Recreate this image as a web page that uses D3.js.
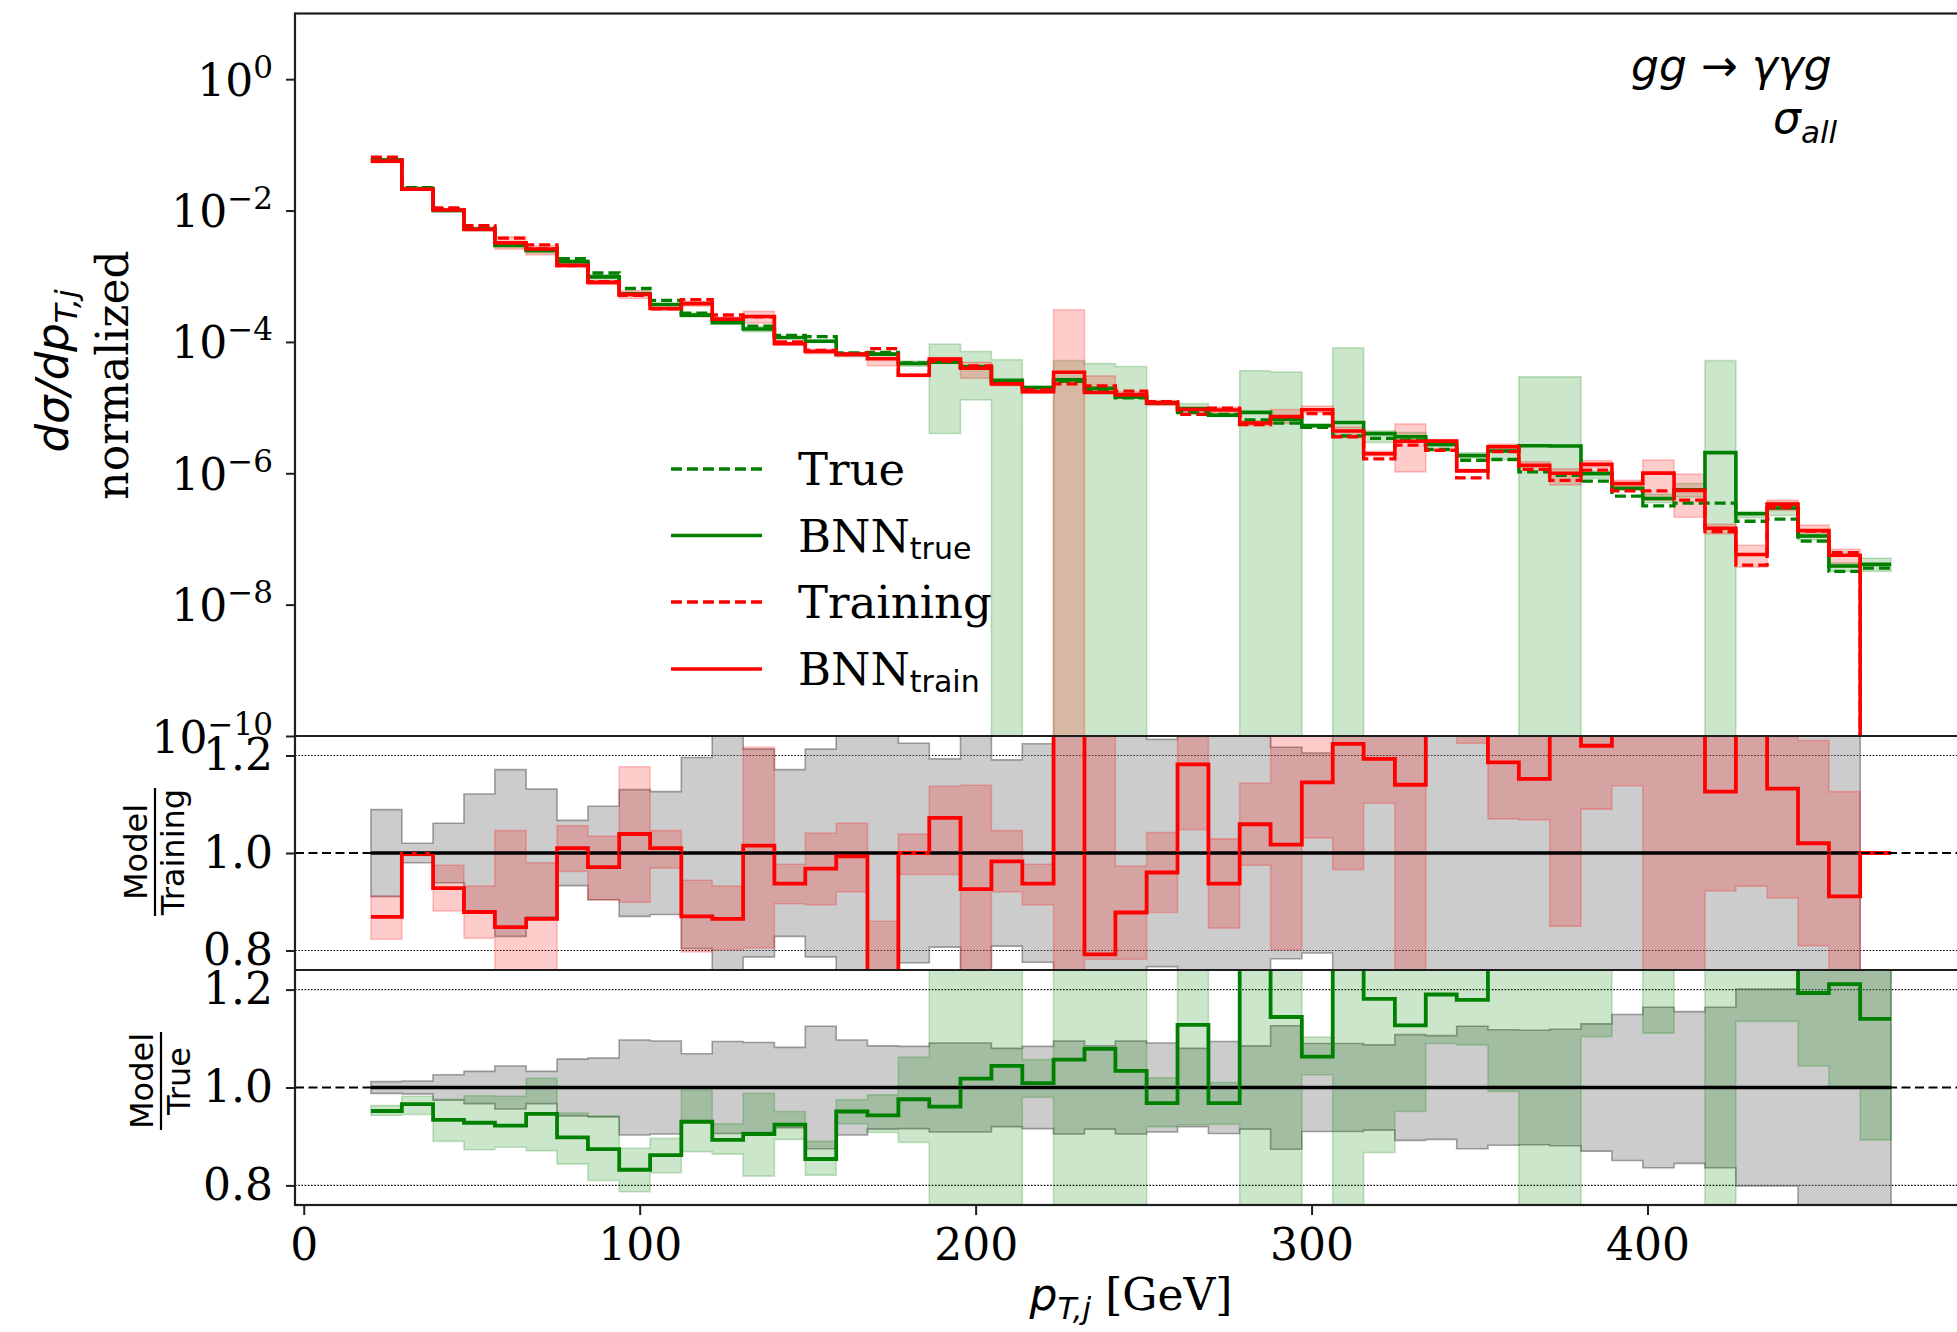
<!DOCTYPE html>
<html>
<head>
<meta charset="utf-8">
<script src="https://cdn.jsdelivr.net/npm/d3@7"></script>
<style>
  html, body { margin: 0; padding: 0; background: #ffffff; }
  svg { display: block; }
</style>
</head>
<body>
<svg id="chart" width="1957" height="1332"></svg>
<script>
// ---- histogram data: jet transverse momentum, 49 bins ----
const binEdges = [20.0, 29.2, 38.5, 47.7, 56.9, 66.2, 75.4, 84.6, 93.9, 103.1,
  112.4, 121.6, 130.8, 140.1, 149.3, 158.5, 167.8, 177.0, 186.2, 195.5,
  204.7, 213.9, 223.2, 232.4, 241.6, 250.9, 260.1, 269.3, 278.6, 287.8,
  297.1, 306.3, 315.5, 324.8, 334.0, 343.2, 352.5, 361.7, 370.9, 380.2,
  389.4, 398.6, 407.9, 417.1, 426.3, 435.6, 444.8, 454.0, 463.3, 472.5];

// normalized differential cross section, "True" sample
const trueHist = [6.2e-2, 2.24e-2, 1.07e-2, 5.6e-3, 3.2e-3, 2.6e-3, 1.86e-3, 1.12e-3, 6.5e-4, 4.3e-4,
  2.75e-4, 2.19e-4, 1.74e-4, 1.26e-4, 1.20e-4, 6.8e-5, 6.9e-5, 4.8e-5, 5.1e-5, 4.1e-5,
  2.5e-5, 2.0e-5, 2.5e-5, 1.82e-5, 1.41e-5, 1.20e-5, 8.5e-6, 7.9e-6, 6.5e-6, 5.8e-6,
  5.0e-6, 3.7e-6, 3.4e-6, 3.2e-6, 2.3e-6, 1.58e-6, 1.62e-6, 1.05e-6, 9.3e-7, 7.6e-7,
  4.5e-7, 3.2e-7, 3.5e-7, 3.5e-7, 1.86e-7, 2.0e-7, 9.3e-8, 3.2e-8, 3.6e-8];

// normalized differential cross section, "Training" sample (empty last bin)
const trainHist = [6.5e-2, 2.11e-2, 1.10e-2, 5.9e-3, 3.8e-3, 3.0e-3, 1.45e-3, 8.3e-4, 5.1e-4, 3.2e-4,
  4.4e-4, 2.57e-4, 2.40e-4, 1.00e-4, 7.4e-5, 6.5e-5, 7.9e-5, 3.1e-5, 5.1e-5, 4.3e-5,
  2.34e-5, 1.86e-5, 2.29e-5, 2.14e-5, 1.78e-5, 1.23e-5, 7.9e-6, 9.8e-6, 5.5e-6, 7.2e-6,
  8.1e-6, 3.6e-6, 1.66e-6, 2.69e-6, 2.24e-6, 8.5e-7, 2.14e-6, 1.15e-6, 7.8e-7, 1.12e-6,
  5.4e-7, 5.4e-7, 3.9e-7, 1.29e-7, 4.0e-8, 3.0e-7, 1.32e-7, 6.2e-8, 0];

// relative statistical uncertainty of the Training histogram
const trainStatUnc = [0.089, 0.020, 0.061, 0.121, 0.171, 0.131, 0.067, 0.096, 0.130, 0.126,
  0.196, 0.245, 0.213, 0.171, 0.213, 0.26, 0.27, 0.225, 0.193, 0.26,
  0.191, 0.224, 0.30, 0.28, 0.26, 0.233, 0.27, 0.28, 0.26, 0.217,
  0.205, 0.29, 0.30, 0.30, 0.32, 0.33, 0.33, 0.35, 0.36, 0.36,
  0.38, 0.40, 0.40, 0.42, 0.45, 0.45, 0.48, 0.50, null];

// BNN_train / Training, with the BNN uncertainty band
const bnnTrainRatio = [0.869, 0.998, 0.928, 0.879, 0.848, 0.865, 1.010, 0.971, 1.039, 1.010,
  0.870, 0.865, 1.015, 0.937, 0.968, 0.993, 0.700, 1.000, 1.072, 0.926,
  0.983, 0.937, 1.51, 0.792, 0.878, 0.960, 1.182, 0.937, 1.059, 1.017,
  1.145, 1.224, 1.193, 1.140, 1.38, 1.28, 1.186, 1.152, 1.28, 1.220,
  1.29, 1.86, 1.41, 1.126, 1.45, 1.132, 1.020, 0.911, 1.000];
const bnnTrainRatioLo = [0.823, 0.995, 0.881, 0.825, 0.68, 0.70, 0.962, 0.904, 0.899, 0.969,
  0.797, 0.802, 0.805, 0.896, 0.894, 0.920, 0.55, 0.956, 0.956, 0.65,
  0.920, 0.894, 0, 0.782, 0.782, 0.878, 1.048, 0.846, 0.975, 0.802,
  1.031, 0.966, 1.102, 0.39, 1.30, 1.225, 1.070, 1.068, 0.850, 1.090,
  1.138, 0.72, 0.55, 0.922, 0.932, 0.908, 0.810, 0.60, null];
const bnnTrainRatioHi = [0.911, 1.002, 0.975, 0.932, 1.046, 0.980, 1.056, 1.035, 1.177, 1.046,
  0.944, 0.932, 1.217, 0.977, 1.041, 1.061, 0.860, 1.039, 1.137, 1.139,
  1.046, 0.977, 13.5, 1.42, 0.973, 1.042, 1.30, 1.029, 1.143, 1.30,
  1.30, 1.40, 1.30, 2.1, 1.45, 1.35, 1.30, 1.30, 1.50, 1.40,
  1.45, 2.95, 2.5, 1.30, 2.0, 1.30, 1.231, 1.126, null];

// relative statistical uncertainty of the True histogram
const trueStatUnc = [0.012, 0.013, 0.026, 0.033, 0.044, 0.033, 0.058, 0.060, 0.097, 0.095,
  0.069, 0.094, 0.092, 0.082, 0.125, 0.097, 0.085, 0.084, 0.091, 0.091,
  0.080, 0.084, 0.095, 0.085, 0.095, 0.091, 0.080, 0.094, 0.085, 0.126,
  0.090, 0.090, 0.087, 0.108, 0.106, 0.125, 0.118, 0.117, 0.119, 0.130,
  0.149, 0.164, 0.155, 0.164, 0.201, 0.201, 0.26, 0.30, 0.30];

// BNN_true / True, with the BNN uncertainty band
const bnnTrueRatio = [0.952, 0.966, 0.934, 0.928, 0.922, 0.946, 0.898, 0.874, 0.832, 0.862,
  0.930, 0.893, 0.905, 0.924, 0.854, 0.951, 0.943, 0.976, 0.961, 1.018,
  1.044, 1.009, 1.057, 1.079, 1.034, 0.968, 1.128, 0.968, 1.30, 1.144,
  1.063, 1.60, 1.181, 1.127, 1.190, 1.179, 1.35, 2.5, 2.8, 1.30,
  1.30, 1.29, 1.6, 5.9, 1.30, 1.48, 1.193, 1.211, 1.140];
const bnnTrueRatioLo = [0.943, 0.945, 0.890, 0.873, 0.878, 0.871, 0.844, 0.810, 0.787, 0.826,
  0.869, 0.864, 0.819, 0.894, 0.821, 0.926, 0.908, 0.888, 0.079, 0.32,
  0, 0.98, 0, 0, 0, 0.92, 0.924, 0.925, 0, 0,
  1.026, 0, 0.867, 0.951, 1.09, 1.087, 0.992, 0, 0, 1.104,
  1.25, 1.111, 1.25, 0, 1.135, 1.135, 1.044, 1.002, 0.893];
const bnnTrueRatioHi = [0.963, 0.982, 0.976, 0.983, 0.982, 1.019, 0.948, 0.942, 0.876, 0.896,
  0.995, 0.926, 0.988, 0.951, 0.890, 0.975, 0.985, 1.062, 1.82, 1.74,
  2.14, 1.057, 2.09, 2.57, 3.0, 1.02, 1.35, 1.01, 5.6, 6.0,
  1.103, 21.9, 1.30, 1.30, 1.32, 1.30, 1.50, 28, 31.6, 1.45,
  1.40, 1.50, 2.0, 148, 1.40, 1.80, 1.35, 1.35, 1.41];

// axis ticks
const logTickValues = [1, 1e-2, 1e-4, 1e-6, 1e-8, 1e-10];
const logTickExponents = ["0", "\u22122", "\u22124", "\u22126", "\u22128", "\u221210"];
const ratioTicks = [0.8, 1.0, 1.2];
const xTicks = [0, 100, 200, 300, 400];

// ---- layout ----
const X0 = 295, X1 = 1967;
const MAIN_TOP = 13.5, MAIN_BOT = 736, P1_BOT = 970, P2_BOT = 1205;

const SERIF = "'DejaVu Serif', serif";
const SANS = "'DejaVu Sans', sans-serif";
const GREEN = "#008000", RED = "#ff0000";

const svg = d3.select("#chart");
svg.append("rect").attr("width", 1957).attr("height", 1332).attr("fill", "#ffffff");

const x = d3.scaleLinear().domain([-2.6, 495.1]).range([X0, X1]);
const yMain = d3.scaleLog().domain([1e-10, 10]).range([MAIN_BOT, MAIN_TOP]);
const yR1 = d3.scaleLinear().domain([0.76, 1.24]).range([P1_BOT, MAIN_BOT]);
const yR2 = d3.scaleLinear().domain([0.76, 1.24]).range([P2_BOT, P1_BOT]);
const yLog = v => (v > 0 ? yMain(v) : MAIN_BOT + 80);

const defs = svg.append("defs");
function addClip(id, y0, y1) {
  defs.append("clipPath").attr("id", id)
    .append("rect").attr("x", X0).attr("y", y0).attr("width", X1 - X0).attr("height", y1 - y0);
}
addClip("clipMain", MAIN_TOP, MAIN_BOT);
addClip("clipR1", MAIN_BOT, P1_BOT);
addClip("clipR2", P1_BOT, P2_BOT);

// step ("post") helpers
const ok = v => v !== null && v !== undefined && !Number.isNaN(v);
function stepPoints(vals) {
  const pts = [];
  vals.forEach((v, i) => {
    pts.push({ x: binEdges[i], v, ok: ok(v) });
    pts.push({ x: binEdges[i + 1], v, ok: ok(v) });
  });
  return pts;
}
function stepBand(lo, hi) {
  const pts = [];
  lo.forEach((l, i) => {
    const h = hi[i];
    const good = ok(l) && ok(h);
    pts.push({ x: binEdges[i], lo: l, hi: h, ok: good });
    pts.push({ x: binEdges[i + 1], lo: l, hi: h, ok: good });
  });
  return pts;
}
const lineGen = yf => d3.line().defined(d => d.ok).x(d => x(d.x)).y(d => yf(d.v));
const areaGen = yf => d3.area().defined(d => d.ok).x(d => x(d.x)).y0(d => yf(d.lo)).y1(d => yf(d.hi));

function drawBand(g, yf, lo, hi, fill, stroke) {
  g.append("path").datum(stepBand(lo, hi))
    .attr("d", areaGen(yf))
    .attr("fill", fill).attr("stroke", stroke).attr("stroke-width", 1.6);
}
function drawStep(g, yf, vals, color, width, dash) {
  g.append("path").datum(stepPoints(vals))
    .attr("d", lineGen(yf))
    .attr("fill", "none").attr("stroke", color).attr("stroke-width", width)
    .attr("stroke-linejoin", "miter").attr("stroke-dasharray", dash || null);
}

// ---- derived series ----
const bnnTrueHist = trueHist.map((v, i) => v * bnnTrueRatio[i]);
const bnnTrainHist = trainHist.map((v, i) => v * bnnTrainRatio[i]);
const bnnTrueLoHist = trueHist.map((v, i) => v * bnnTrueRatioLo[i]);
const bnnTrueHiHist = trueHist.map((v, i) => v * bnnTrueRatioHi[i]);
const bnnTrainLoHist = trainHist.map((v, i) => ok(bnnTrainRatioLo[i]) ? v * bnnTrainRatioLo[i] : null);
const bnnTrainHiHist = trainHist.map((v, i) => ok(bnnTrainRatioHi[i]) ? v * bnnTrainRatioHi[i] : null);

const trainUncLo = trainStatUnc.map(s => ok(s) ? 1 - s : null);
const trainUncHi = trainStatUnc.map(s => ok(s) ? 1 + s : null);
const trueUncLo = trueStatUnc.map(s => 1 - s);
const trueUncHi = trueStatUnc.map(s => 1 + s);
const trainUnity = trainHist.map(v => (v > 0 ? 1 : null));
const trueUnity = trueHist.map(v => (v > 0 ? 1 : null));

// ---- main panel ----
const gMain = svg.append("g").attr("clip-path", "url(#clipMain)");
drawBand(gMain, yLog, bnnTrueLoHist, bnnTrueHiHist, "rgba(0,128,0,0.2)", "rgba(0,128,0,0.22)");
drawBand(gMain, yLog, bnnTrainLoHist, bnnTrainHiHist, "rgba(255,0,0,0.2)", "rgba(255,0,0,0.22)");
drawStep(gMain, yLog, trueHist, GREEN, 3.3, "11,5");
drawStep(gMain, yLog, bnnTrueHist, GREEN, 3.6);
drawStep(gMain, yLog, trainHist, RED, 3.3, "11,5");
drawStep(gMain, yLog, bnnTrainHist, RED, 3.6);

// ---- ratio panels ----
function refLines(g, yf) {
  [0.8, 1.2].forEach(v => {
    g.append("line").attr("x1", X0).attr("x2", X1).attr("y1", yf(v)).attr("y2", yf(v))
      .attr("stroke", "#000").attr("stroke-width", 1.1).attr("stroke-dasharray", "1.6,1.6");
  });
}
function unityDashed(g, yf) {
  g.append("line").attr("x1", X0).attr("x2", X1).attr("y1", yf(1)).attr("y2", yf(1))
    .attr("stroke", "#000").attr("stroke-width", 2).attr("stroke-dasharray", "9,4.5");
}

const gR1 = svg.append("g").attr("clip-path", "url(#clipR1)");
refLines(gR1, yR1);
drawBand(gR1, yR1, trainUncLo, trainUncHi, "rgba(128,128,128,0.4)", "rgba(90,90,90,0.55)");
drawBand(gR1, yR1, bnnTrainRatioLo, bnnTrainRatioHi, "rgba(255,0,0,0.2)", "rgba(255,0,0,0.22)");
drawStep(gR1, yR1, trainUnity, "#000", 3.6);
drawStep(gR1, yR1, bnnTrainRatio, RED, 3.8);
unityDashed(gR1, yR1);

const gR2 = svg.append("g").attr("clip-path", "url(#clipR2)");
refLines(gR2, yR2);
drawBand(gR2, yR2, trueUncLo, trueUncHi, "rgba(128,128,128,0.4)", "rgba(90,90,90,0.55)");
drawBand(gR2, yR2, bnnTrueRatioLo, bnnTrueRatioHi, "rgba(0,128,0,0.2)", "rgba(0,128,0,0.22)");
drawStep(gR2, yR2, trueUnity, "#000", 3.6);
drawStep(gR2, yR2, bnnTrueRatio, GREEN, 3.8);
unityDashed(gR2, yR2);

// ---- frame ----
const frame = svg.append("g").attr("stroke", "#1e1e1e").attr("stroke-width", 2.2).attr("fill", "none");
frame.append("rect").attr("x", X0).attr("y", MAIN_TOP).attr("width", X1 - X0).attr("height", P2_BOT - MAIN_TOP);
frame.append("line").attr("x1", X0).attr("x2", X1).attr("y1", MAIN_BOT).attr("y2", MAIN_BOT);
frame.append("line").attr("x1", X0).attr("x2", X1).attr("y1", P1_BOT).attr("y2", P1_BOT);

// ---- axes ----
function styleAxis(g) {
  g.select(".domain").remove();
  g.selectAll(".tick line").attr("stroke", "#1e1e1e").attr("stroke-width", 2);
  g.selectAll(".tick text").attr("fill", "#000").attr("font-family", SERIF).attr("font-size", 44);
}

const gy = svg.append("g").attr("transform", `translate(${X0},0)`)
  .call(d3.axisLeft(yMain).tickValues(logTickValues).tickSize(9).tickFormat(() => ""));
styleAxis(gy);
gy.selectAll(".tick text").remove();
gy.selectAll(".tick").each(function (d, i) {
  const t = d3.select(this).append("text")
    .attr("x", -22).attr("y", 16).attr("text-anchor", "end")
    .attr("fill", "#000").attr("font-family", SERIF).attr("font-size", 44);
  t.append("tspan").text("10");
  t.append("tspan").attr("dy", -18).attr("font-size", 31).text(logTickExponents[i]);
});

[yR1, yR2].forEach(ys => {
  const g = svg.append("g").attr("transform", `translate(${X0},0)`)
    .call(d3.axisLeft(ys).tickValues(ratioTicks).tickSize(9).tickPadding(13).tickFormat(d3.format(".1f")));
  styleAxis(g);
});

const gx = svg.append("g").attr("transform", `translate(0,${P2_BOT})`)
  .call(d3.axisBottom(x).tickValues(xTicks).tickSize(10).tickPadding(14).tickFormat(d3.format("d")));
styleAxis(gx);

// ---- axis labels ----
const xl = svg.append("text").attr("x", 1131).attr("y", 1310).attr("text-anchor", "middle")
  .attr("font-size", 44).attr("fill", "#000");
xl.append("tspan").attr("font-family", SANS).attr("font-style", "italic").text("p");
xl.append("tspan").attr("font-family", SANS).attr("font-style", "italic").attr("font-size", 31).attr("dy", 9).text("T,j");
xl.append("tspan").attr("font-family", SERIF).attr("dy", -9).text(" [GeV]");

const yl1 = svg.append("text").attr("transform", "translate(68,371) rotate(-90)")
  .attr("text-anchor", "middle").attr("font-size", 45).attr("fill", "#000")
  .attr("font-family", SANS).attr("font-style", "italic");
yl1.append("tspan").text("d\u03c3/dp");
yl1.append("tspan").attr("font-size", 31).attr("dy", 9).text("T,j");

svg.append("text").attr("transform", "translate(128,375) rotate(-90)")
  .attr("text-anchor", "middle").attr("font-size", 44).attr("font-family", SERIF).attr("fill", "#000")
  .text("normalized");

function ratioLabel(cx, cy, top, bottom, barLen) {
  const g = svg.append("g").attr("transform", `translate(${cx},${cy}) rotate(-90)`)
    .attr("font-family", SANS).attr("font-size", 32).attr("fill", "#000").attr("text-anchor", "middle");
  g.append("text").attr("x", 0).attr("y", -8).text(top);
  g.append("line").attr("x1", -barLen / 2).attr("x2", barLen / 2).attr("y1", 0).attr("y2", 0)
    .attr("stroke", "#000").attr("stroke-width", 2.2);
  g.append("text").attr("x", 0).attr("y", 29).text(bottom);
}
ratioLabel(155, 852, "Model", "Training", 128);
ratioLabel(161, 1081, "Model", "True", 98);

// ---- legend ----
const legendItems = [
  { y: 469, color: GREEN, dash: "11,5", main: "True", sub: null },
  { y: 535.5, color: GREEN, dash: null, main: "BNN", sub: "true" },
  { y: 602, color: RED, dash: "11,5", main: "Training", sub: null },
  { y: 669, color: RED, dash: null, main: "BNN", sub: "train" }
];
const lg = svg.append("g");
legendItems.forEach(it => {
  lg.append("line").attr("x1", 671).attr("x2", 762).attr("y1", it.y).attr("y2", it.y)
    .attr("stroke", it.color).attr("stroke-width", 3.3).attr("stroke-dasharray", it.dash);
  const t = lg.append("text").attr("x", 798).attr("y", it.y + 16)
    .attr("font-family", SERIF).attr("font-size", 45).attr("fill", "#000");
  t.append("tspan").text(it.main);
  if (it.sub) t.append("tspan").attr("font-family", SANS).attr("font-size", 30).attr("dy", 7).text(it.sub);
});

// ---- process annotation ----
svg.append("text").attr("x", 1631).attr("y", 81)
  .attr("font-family", SANS).attr("font-style", "italic").attr("font-size", 44).attr("fill", "#000")
  .text("gg \u2192 \u03b3\u03b3g");
const sg = svg.append("text").attr("x", 1773).attr("y", 133)
  .attr("font-family", SANS).attr("font-style", "italic").attr("font-size", 44).attr("fill", "#000");
sg.append("tspan").text("\u03c3");
sg.append("tspan").attr("font-size", 31).attr("dy", 10).text("all");
</script>
</body>
</html>
